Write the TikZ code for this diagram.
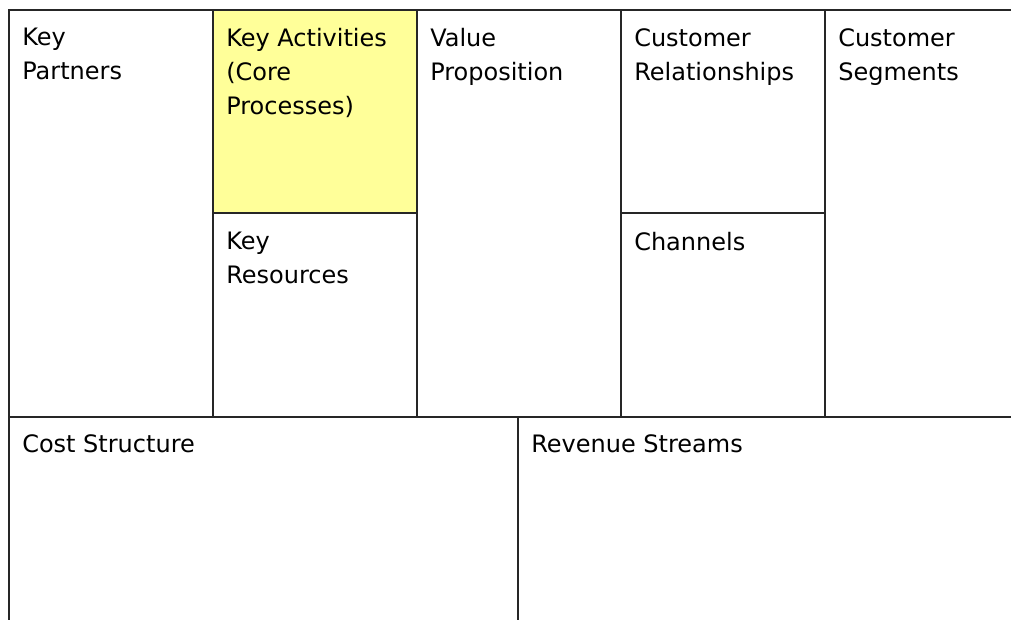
\documentclass[tikz,border=0pt]{standalone}
\usepackage{fontspec}
\setmainfont{DejaVu Sans}
\usetikzlibrary{positioning}
\definecolor{paleyellow}{rgb}{1,1,0.6}
\definecolor{gridgray}{rgb}{0.15,0.15,0.15}

\begin{document}
\begin{tikzpicture}[line cap=rect,line join=miter,x=0.75pt,y=-0.75pt,
  gridline/.style={line width=1.4pt,color=gridgray},
  lbl/.style={anchor=north west,inner sep=0pt,align=left,font=\fontsize{18}{25.5}\selectfont}]
\useasboundingbox (0,0) rectangle (1011,620);
\fill[paleyellow] (213,10) rectangle (417,213);
% outer frame, open at the right and bottom
\draw[gridline] (1011,10) -- (9,10) -- (9,620);
\foreach \x in {213,417,621,825}
\draw[gridline] (\x,10) -- (\x,417);
\draw[gridline] (213,213) -- (417,213);
\draw[gridline] (621,213) -- (825,213);
\draw[gridline] (9,417) -- (1011,417);
\draw[gridline] (518,417) -- (518,620);
% block titles
\node[lbl] (partners) at (22,28) {Key\\Partners};
\node[lbl] (activities) at (226,28) {Key Activities\\(Core\\Processes)};
\node[lbl] (value) at (430,28) {Value\\Proposition};
\node[lbl] (relations) at (634,28) {Customer\\Relationships};
\node[lbl] (segments) at (838,28) {Customer\\Segments};
\node[lbl] (resources) at (226,232) {Key\\Resources};
\node[lbl] (channels) at (634,232) {Channels};
\node[lbl] (cost) at (22,434) {Cost Structure};
\node[lbl] (revenue) at (531,434) {Revenue Streams};
\end{tikzpicture}
\end{document}
